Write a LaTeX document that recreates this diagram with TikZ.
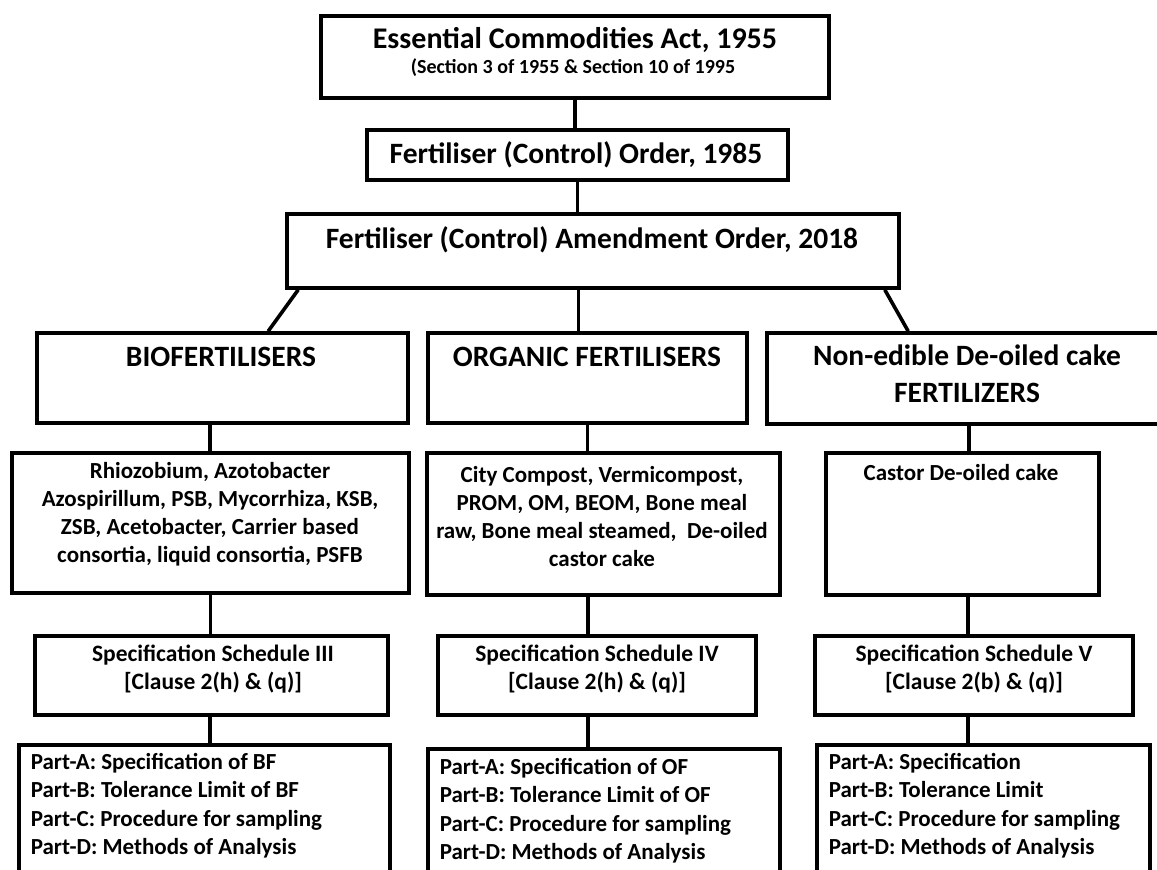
\documentclass[tikz,border=0pt]{standalone}
\usepackage{fontspec}
\setmainfont{Carlito}
\usetikzlibrary{positioning, calc}
\tikzset{
  every picture/.style={line width=3.6pt},
  frame/.style={draw=black, fill=white, rectangle, inner sep=0pt},
  link/.style={draw=black, line width=3.6pt},
  head/.style={font=\fontsize{29.5}{35}\selectfont\bfseries, inner sep=0pt, align=center},
  body/.style={font=\fontsize{23}{28}\selectfont\bfseries, inner sep=0pt, align=center},
  parts/.style={font=\fontsize{23}{28.5}\selectfont\bfseries, inner sep=0pt, align=left, anchor=west},
}

\begin{document}
\begin{tikzpicture}[x=1pt, y=-1pt]
  \useasboundingbox (0,0) rectangle (1157,870);
  \clip (0,0) rectangle (1157,870);
  % top of the chain
  \node[frame, minimum width=508, minimum height=82] (act) at (575,57) {};
  \node[frame, minimum width=421, minimum height=50] (fco) at (577.5,155) {};
  \node[frame, minimum width=612, minimum height=74] (amend) at (593,251) {};
  \node[head, font=\fontsize{30}{36}\selectfont\bfseries] (actt) at (575,40) {Essential Commodities Act, 1955};
  \node[head, font=\fontsize{20}{24}\selectfont\bfseries] (acts) at (573,68) {(Section 3 of 1955 \& Section 10 of 1995};
  \node[head] (fcot) at (576,155) {Fertiliser (Control) Order, 1985};
  \node[head] (amendt) at (592,240) {Fertiliser (Control) Amendment Order, 2018};
  % three groups
  \node[frame, minimum width=371, minimum height=90] (bio) at (222.5,378) {};
  \node[frame, minimum width=319, minimum height=90] (org) at (587.5,378) {};
  \node[frame, minimum width=395, minimum height=91] (nec) at (964.5,378.5) {};
  \node[head] (biot) at (221,357) {BIOFERTILISERS};
  \node[head] (orgt) at (587,357) {ORGANIC FERTILISERS};
  \node[head, font=\fontsize{29.5}{37}\selectfont\bfseries] (nect) at (967,373.5) {Non-edible De-oiled cake\\FERTILIZERS};
  % products
  \node[frame, minimum width=397, minimum height=140] (spbio) at (210.5,523) {};
  \node[frame, minimum width=353, minimum height=142] (sporg) at (603.5,524) {};
  \node[frame, minimum width=273, minimum height=142] (cast) at (962.5,524) {};
  \node[body] (spbiot) at (210,514.5) {Rhiozobium, Azotobacter\\Azospirillum, PSB, Mycorrhiza, KSB,\\ZSB, Acetobacter, Carrier based\\consortia, liquid consortia, PSFB};
  \node[body] (sporgt) at (602,516.5) {City Compost, Vermicompost,\\PROM, OM, BEOM, Bone meal\\raw, Bone meal steamed, \ De-oiled\\castor cake};
  \node[body] (castt) at (961,473) {Castor De-oiled cake};
  % schedules
  \node[frame, minimum width=353, minimum height=79] (sch3) at (211.5,675.5) {};
  \node[frame, minimum width=318, minimum height=79] (sch4) at (597,675.5) {};
  \node[frame, minimum width=318, minimum height=79] (sch5) at (974,675.5) {};
  \node[body, font=\fontsize{23.5}{28}\selectfont\bfseries] (sch3t) at (213,669) {Specification Schedule III\\{}[Clause 2(h) \& (q)]};
  \node[body, font=\fontsize{23.5}{28}\selectfont\bfseries] (sch4t) at (597,669) {Specification Schedule IV\\{}[Clause 2(h) \& (q)]};
  \node[body, font=\fontsize{23.5}{28}\selectfont\bfseries] (sch5t) at (974,669) {Specification Schedule V\\{}[Clause 2(b) \& (q)]};
  % parts
  \node[frame, minimum width=371, minimum height=155] (ptbio) at (204.5,822.5) {};
  \node[frame, minimum width=352, minimum height=151] (ptorg) at (604,824.5) {};
  \node[frame, minimum width=333, minimum height=155] (ptcas) at (983.5,822.5) {};
  \node[parts] (ptbiot) at (29,805.5) {Part-A: Specification of BF\\Part-B: Tolerance Limit of BF\\Part-C: Procedure for sampling\\Part-D: Methods of Analysis};
  \node[parts] (ptorgt) at (438,810.5) {Part-A: Specification of OF\\Part-B: Tolerance Limit of OF\\Part-C: Procedure for sampling\\Part-D: Methods of Analysis};
  \node[parts] (ptcast) at (827,805.5) {Part-A: Specification\\Part-B: Tolerance Limit\\Part-C: Procedure for sampling\\Part-D: Methods of Analysis};
  % connectors
  \draw[link] (act.south) -- (act.south |- fco.north);
  \draw[link] (fco.south) -- (fco.south |- amend.north);
  \draw[link] ([xshift=13]amend.south west) -- ([xshift=233]bio.north west);
  \draw[link] ([xshift=-9]org.north) -- ([xshift=-9]org.north |- amend.south);
  \draw[link] ([xshift=-16]amend.south east) -- ([xshift=143]nec.north west);
  \foreach \a/\b/\s in {bio/spbio/-12.5, spbio/sch3/0, sch3/ptbio/-1.5,
                        org/sporg/0, sporg/sch4/-15.5, sch4/ptorg/-9,
                        nec/cast/4.5, cast/sch5/5.5, sch5/ptcas/-6}
    \draw[link] ([xshift=\s]\a.south) -- ([xshift=\s]\a.south |- \b.north);
\end{tikzpicture}
\end{document}
